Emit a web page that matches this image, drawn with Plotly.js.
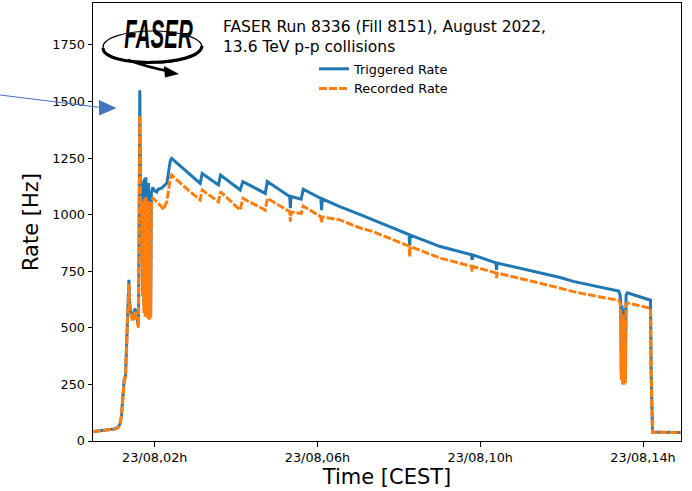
<!DOCTYPE html>
<html>
<head>
<meta charset="utf-8">
<script src="https://cdn.plot.ly/plotly-3.0.1.min.js"></script>
<style>
  html, body { margin: 0; padding: 0; background: #ffffff; }
  #chart { width: 692px; height: 491px; }
  /* condensed lettering for the experiment logo */
  .annotation[data-index="0"] .annotation-text {
    transform-box: fill-box;
    transform-origin: center;
    transform: scaleX(0.5);
  }
</style>
</head>
<body>
<div id="chart"></div>
<script>
// Run 8336, 23 August 2022 (local time, CEST)
const runDay = '2022-08-23';

const times = [
  '00:29', '00:40', '00:50', '01:00', '01:06', '01:09', '01:11', '01:13', '01:15', '01:17',
  '01:19', '01:20', '01:22', '01:23', '01:25', '01:28', '01:31', '01:33', '01:36', '01:37',
  '01:38', '01:39', '01:40', '01:41', '01:42', '01:43', '01:44', '01:45', '01:46', '01:47',
  '01:48', '01:49', '01:50', '01:51', '01:52', '01:53', '01:54', '01:55', '01:57', '02:00',
  '02:03', '02:05', '02:10', '02:13', '02:18', '02:20', '02:23', '02:25', '02:45', '03:07',
  '03:10', '03:34', '03:37', '04:06', '04:10', '04:43', '04:46', '05:19', '05:20', '05:21',
  '05:36', '05:39', '06:05', '06:06', '06:07', '06:33', '07:03', '07:22', '08:15', '08:16',
  '08:17', '09:01', '09:47', '09:48', '09:49', '10:23', '10:24', '10:25', '11:09', '11:28',
  '11:58', '12:17', '13:06', '13:24', '13:26', '13:27', '13:28', '13:29', '13:30', '13:31',
  '13:32', '13:33', '13:34', '13:35', '13:37', '13:46', '14:00', '14:11', '14:12', '14:13',
  '14:14', '14:56'
];

// Triggered rate [Hz]
const triggered = [
  42, 46, 49, 53, 60, 78, 112, 190, 272, 288,
  420, 552, 712, 612, 568, 538, 585, 552, 510, 950,
  1550, 1120, 1100, 1150, 700, 1140, 600, 1160, 585, 1165,
  590, 1125, 560, 1140, 548, 1100, 555, 1095, 1120, 1105,
  1100, 1112, 1117, 1125, 1140, 1180, 1238, 1249, 1195, 1138,
  1182, 1131, 1175, 1109, 1146, 1094, 1146, 1080, 1029, 1080,
  1068, 1112, 1072, 1020, 1070, 1035, 1000, 977, 912, 866,
  910, 859, 823, 800, 822, 787, 756, 786, 756, 742,
  722, 705, 675, 662, 648, 618, 300, 600, 262, 585,
  258, 570, 275, 645, 655, 646, 632, 622, 300, 60,
  40, 38
];

// Recorded rate [Hz]
const recorded = [
  41, 45, 48, 52, 58, 76, 110, 186, 267, 283,
  412, 545, 695, 600, 556, 528, 574, 540, 500, 920,
  1440, 1030, 1010, 1060, 640, 1050, 565, 1070, 548, 1080,
  552, 1045, 540, 1060, 536, 1030, 545, 1035, 1075, 1065,
  1058, 1052, 1035, 1022, 1060, 1096, 1160, 1175, 1120, 1065,
  1109, 1057, 1101, 1020, 1072, 1020, 1072, 1013, 969, 1012,
  1005, 1038, 991, 963, 990, 977, 941, 925, 861, 815,
  859, 808, 772, 749, 771, 743, 720, 742, 712, 697,
  675, 660, 631, 622, 610, 590, 268, 560, 250, 552,
  249, 540, 256, 603, 610, 603, 594, 586, 290, 58,
  39, 37
];

const seriesNames = ['Triggered Rate', 'Recorded Rate'];
const tickHours = ['02:00', '06:00', '10:00', '14:00'];
const tickLabels = ['23/08,02h', '23/08,06h', '23/08,10h', '23/08,14h'];
const rateTicks = [0, 250, 500, 750, 1000, 1250, 1500, 1750];
const titleLines = ['FASER Run 8336 (Fill 8151), August 2022,', '13.6 TeV p-p collisions'];

const stamp = t => runDay + ' ' + t;
const xValues = times.map(stamp);

// plot-area geometry (pixels) used to place the logo and pointer in paper units
const PL = 93, PT = 3, PW = 588, PH = 438;
const px = x => (x - PL) / PW;
const py = y => (PT + PH - y) / PH;
const pt = (x, y) => px(x).toFixed(4) + ',' + py(y).toFixed(4);

const FONT = 'DejaVu Sans, Liberation Sans, Arial, sans-serif';

const traces = [
  {
    x: xValues, y: triggered, name: seriesNames[0], type: 'scatter', mode: 'lines',
    line: { color: '#1f77b4', width: 3 }
  },
  {
    x: xValues, y: recorded, name: seriesNames[1], type: 'scatter', mode: 'lines',
    line: { color: '#ff7f0e', width: 3, dash: '8px,2px' }
  }
];

const shapes = [
  // blue pointer towards the injection spike
  { type: 'line', xref: 'paper', yref: 'paper',
    x0: px(0), y0: py(95), x1: px(101), y1: py(107.5),
    line: { color: '#4472c4', width: 1.2 } },
  { type: 'path', xref: 'paper', yref: 'paper',
    path: 'M' + pt(99, 100) + 'L' + pt(116.5, 108) + 'L' + pt(99, 115.5) + 'Z',
    fillcolor: '#4472c4', line: { width: 0 } },
  // logo: orbit ellipse
  { type: 'circle', xref: 'paper', yref: 'paper',
    x0: px(103), x1: px(202), y0: py(63), y1: py(31),
    line: { color: '#000000', width: 1.2 } },
  // logo: heavier lower half of the orbit
  { type: 'path', xref: 'paper', yref: 'paper',
    path: 'M' + pt(103, 48) + 'C' + pt(103, 68) + ' ' + pt(200, 67) + ' ' + pt(202, 46),
    line: { color: '#000000', width: 3 } },
  // logo: arrow leaving the orbit
  { type: 'path', xref: 'paper', yref: 'paper',
    path: 'M' + pt(128, 60) + 'Q' + pt(150, 68) + ' ' + pt(169, 71),
    line: { color: '#000000', width: 2.5 } },
  { type: 'path', xref: 'paper', yref: 'paper',
    path: 'M' + pt(164, 66) + 'L' + pt(179, 74) + 'L' + pt(165, 77.5) + 'Z',
    fillcolor: '#000000', line: { width: 0 } }
];

const annotations = [
  { text: '<b><i>FASER</i></b>', xref: 'paper', yref: 'paper',
    x: px(158), y: py(34), xanchor: 'center', yanchor: 'middle', showarrow: false,
    font: { family: 'Liberation Sans, Arial, sans-serif', size: 41, color: '#000000' } },
  { text: titleLines.join('<br>'), xref: 'paper', yref: 'paper',
    x: px(221), y: py(37), xanchor: 'left', yanchor: 'middle', align: 'left', showarrow: false,
    font: { family: FONT, size: 15.5, color: '#000000' } }
];

const layout = {
  width: 692, height: 491,
  margin: { l: PL, r: 692 - PL - PW, t: PT, b: 491 - PT - PH, pad: 0 },
  paper_bgcolor: '#ffffff', plot_bgcolor: '#ffffff',
  font: { family: FONT, color: '#000000', size: 12.8 },
  showlegend: true,
  legend: {
    x: px(314), y: py(54), xanchor: 'left', yanchor: 'top',
    bgcolor: 'rgba(0,0,0,0)', borderwidth: 0,
    font: { family: FONT, size: 12.8, color: '#000000' }
  },
  xaxis: {
    type: 'date',
    range: [stamp('00:29'), stamp('14:56')],
    tickmode: 'array', tickvals: tickHours.map(stamp), ticktext: tickLabels,
    ticks: 'outside', ticklen: 4.5, tickwidth: 1, tickcolor: '#000000',
    showline: true, linecolor: '#000000', linewidth: 1, mirror: true,
    showgrid: false, zeroline: false,
    tickfont: { family: FONT, size: 12.8, color: '#000000' },
    title: { text: 'Time [CEST]', font: { family: FONT, size: 21, color: '#000000' }, standoff: 4 }
  },
  yaxis: {
    range: [0, 1935],
    tickmode: 'array', tickvals: rateTicks,
    ticks: 'outside', ticklen: 4.5, tickwidth: 1, tickcolor: '#000000',
    showline: true, linecolor: '#000000', linewidth: 1, mirror: true,
    showgrid: false, zeroline: false,
    tickfont: { family: FONT, size: 12.8, color: '#000000' },
    title: { text: 'Rate [Hz]', font: { family: FONT, size: 21, color: '#000000' }, standoff: 8 }
  },
  shapes: shapes,
  annotations: annotations
};

Plotly.newPlot('chart', traces, layout, { staticPlot: true, displayModeBar: false });
</script>
</body>
</html>
